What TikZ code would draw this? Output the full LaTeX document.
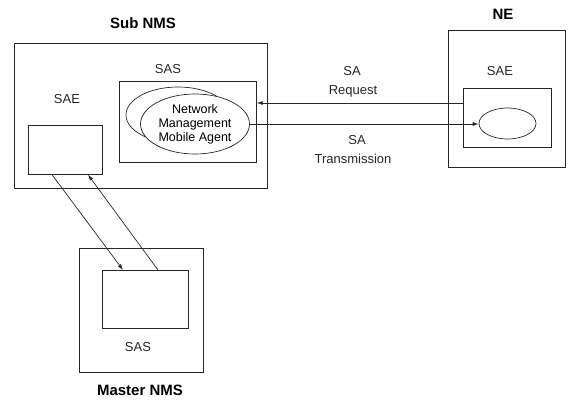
\documentclass[tikz,border=0pt]{standalone}
\usepackage{fontspec}
\setmainfont{Liberation Sans}
\usepackage{tikz}
\usetikzlibrary{arrows, arrows.meta, shapes.geometric}

\tikzset{
  box/.style={draw=black!85,line width=0.7pt,inner sep=0pt,anchor=north west},
  agent/.style={draw=black!85,line width=0.7pt,ellipse,inner sep=0pt},
  lbl/.style={font=\fontsize{13}{15}\selectfont,text=black!85},
  ttl/.style={font=\fontsize{15}{17}\selectfont\bfseries},
  arr/.style={draw=black!85,line width=0.7pt,-{Latex[length=6pt,width=4pt]}}
}

\begin{document}
\begin{tikzpicture}[x=1pt,y=-1pt]
\useasboundingbox (0,0) rectangle (570,399);
%\draw[step=10,gray,very thin] (0,0) grid (570,399);
% Sub NMS
\node[box,minimum width=253pt,minimum height=145pt] (subnms) at (14,43) {};
\node[box,minimum width=137pt,minimum height=81pt] (sas) at (119,81) {};
\node[box,minimum width=74pt,minimum height=49pt] (sae) at (28,125) {};
\node[agent,minimum width=104pt,minimum height=56pt] (agentback) at (178,115) {};
\node[agent,fill=white,minimum width=109pt,minimum height=60pt,align=center,
      font=\fontsize{12.5}{14}\selectfont] (agent) at (195,124) {Network\\Management\\Mobile Agent};
\node[ttl] (subnmsttl) at (143,23) {Sub NMS};
\node[lbl] (sasttl) at (168,69) {SAS};
\node[lbl] (saettl) at (67,99) {SAE};
% NE
\node[box,minimum width=117pt,minimum height=137pt] (ne) at (448,30) {};
\node[box,minimum width=88pt,minimum height=59pt] (nesae) at (463,88) {};
\node[agent,minimum width=57pt,minimum height=31pt] (neagent) at (507.5,123.5) {};
\node[ttl] (nettl) at (503,14) {NE};
\node[lbl] (nesaettl) at (500,71) {SAE};
% Master NMS
\node[box,minimum width=124pt,minimum height=124pt] (master) at (79,248) {};
\node[box,minimum width=86pt,minimum height=58pt] (msas) at (102,270) {};
\node[lbl] (msasttl) at (138,347) {SAS};
\node[ttl] (masterttl) at (140,390) {Master NMS};
% arrows
\coordinate (req) at (0,103);
\draw[arr] (nesae.west |- req) -- (sas.east |- req);
\draw[arr] (agent.east) -- (agent.east -| neagent.west);
\node[lbl] (sa1) at (352,71) {SA};
\node[lbl] (request) at (353,91) {Request};
\node[lbl] (sa2) at (357,140) {SA};
\node[lbl] (transmission) at (353,159) {Transmission};
\draw[arr] ([xshift=24pt]sae.south west) -- ([xshift=21pt]msas.north west);
\draw[arr] ([xshift=56pt]msas.north west) -- ([xshift=60pt]sae.south west);
\end{tikzpicture}
\end{document}
